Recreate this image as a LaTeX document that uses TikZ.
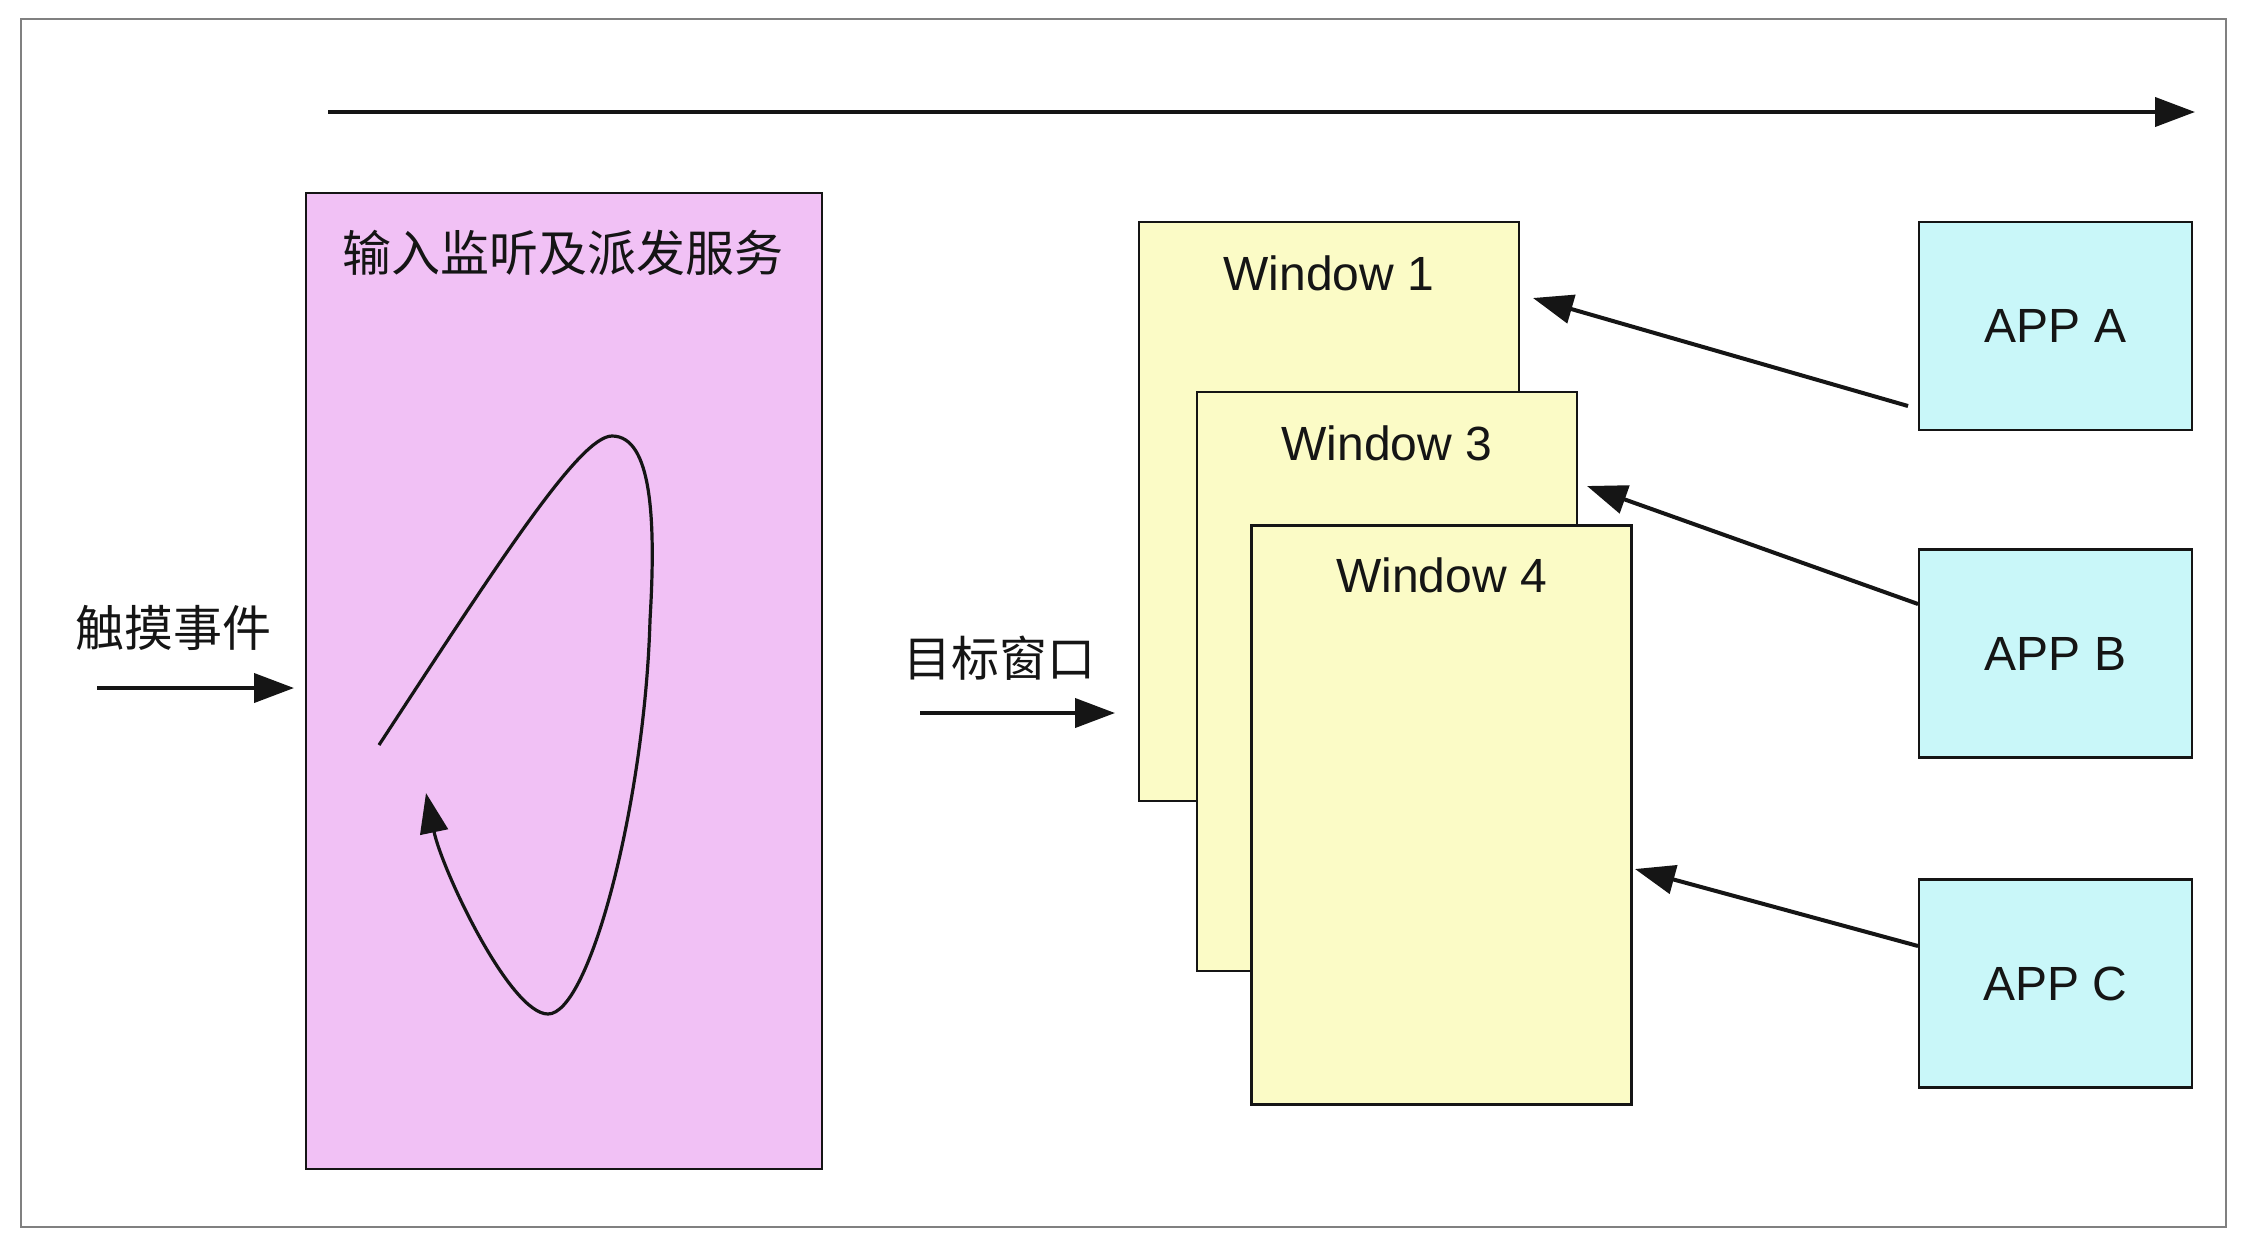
\documentclass[tikz,border=0pt]{standalone}
\usepackage{fontspec}
\setmainfont{Liberation Sans}
\newfontfamily\cjk{Noto Sans CJK SC}
\usetikzlibrary{arrows.meta}
\definecolor{pinkfill}{HTML}{F1C1F5}
\definecolor{winfill}{HTML}{FBFBC6}
\definecolor{appfill}{HTML}{C9F7F9}
\definecolor{frame}{HTML}{808080}
\definecolor{ink}{HTML}{151515}
\begin{document}
\begin{tikzpicture}[x=0.5pt,y=-0.5pt,
  box/.style={draw=ink,line width=1.4pt,inner sep=0pt,outer sep=0pt},
  pinkbox/.style={box,fill=pinkfill,minimum width=258pt,minimum height=488pt},
  winbox/.style={box,fill=winfill,minimum width=190pt,minimum height=289.5pt},
  appbox/.style={box,fill=appfill,minimum width=136.5pt,minimum height=104pt,
     font=\fontsize{24}{28}\selectfont,text=ink},
  wlabel/.style={inner sep=0pt,font=\fontsize{24}{28}\selectfont,text=ink},
  cjklabel/.style={inner sep=0pt,font=\cjk\fontsize{24.5}{28}\selectfont,text=ink},
  arr/.style={draw=ink,line width=2pt,-{Triangle[length=20pt,width=14.5pt]}},
  curvearr/.style={draw=ink,line width=1.6pt,-{Triangle[length=20pt,width=14pt]}}
]
\useasboundingbox (0,0) rectangle (2246,1254);
\fill[white] (0,0) rectangle (2246,1254);
% outer frame
\draw[frame,line width=1pt] (21,19) rectangle (2226,1227);

% top arrow
\coordinate (topL) at (328,112);
\coordinate (topR) at (2195,112);
\draw[arr] (topL) -- (topR);

% pink service box
\node[pinkbox] (svc) at (564,681) {};
\node[cjklabel] (svct) at (563,253) {输入监听及派发服务};

% loop curve inside
\coordinate (c0) at (379,745);
\coordinate (c1) at (612,436);
\coordinate (c2) at (650,620);
\coordinate (c3) at (548,1014);
\coordinate (c4) at (426,793);
\draw[ink,line width=1.6pt] (c0) .. controls (500,560) and (580,436) .. (c1)
   .. controls (652,436) and (656,520) .. (c2)
   .. controls (645,800) and (590,1014) .. (c3);
\draw[curvearr] (c3) .. controls (510,1014) and (442,870) .. (c4);

% input
\node[cjklabel] (touch) at (173,628) {触摸事件};
\coordinate (inL) at (97,688);
\coordinate (inR) at (294,688);
\draw[arr] (inL) -- (inR);

% target window
\node[cjklabel,font=\cjk\fontsize{24}{28}\selectfont] (target) at (999,658) {目标窗口};
\coordinate (tgL) at (920,713);
\coordinate (tgR) at (1115,713);
\draw[arr] (tgL) -- (tgR);

% windows
\node[winbox] (w1) at (1329,511.5) {};
\node[wlabel] (w1t) at ([yshift=-25.5pt]w1.north) {Window 1};
\node[winbox] (w3) at (1387,681.5) {};
\node[wlabel] (w3t) at ([yshift=-25.5pt]w3.north) {Window 3};
\node[winbox] (w4) at (1441.5,815) {};
\node[wlabel] (w4t) at ([yshift=-25pt]w4.north) {Window 4};

% apps
\node[appbox] (appA) at (2055.5,326) {APP A};
\node[appbox] (appB) at (2055.5,653.5) {APP B};
\node[appbox] (appC) at (2055.5,983.5) {APP C};

\coordinate (aS) at (1908,406);
\coordinate (aT) at (1533,298);
\coordinate (bS) at (1918,604);
\coordinate (bT) at (1587,486);
\coordinate (cS) at (1918,946);
\coordinate (cT) at (1635,869);
\draw[arr] (aS) -- (aT);
\draw[arr] (bS) -- (bT);
\draw[arr] (cS) -- (cT);
\end{tikzpicture}
\end{document}
